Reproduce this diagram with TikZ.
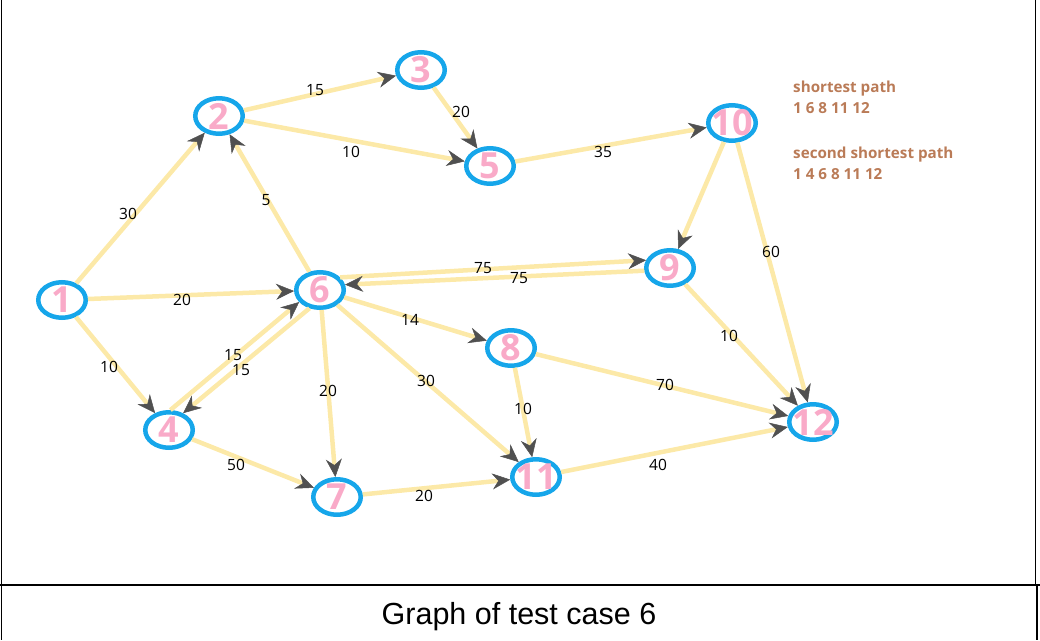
\documentclass[tikz,border=0pt]{standalone}
\usepackage{fontspec}
\setmainfont{Open Sans}
\newfontfamily\titlefont{Liberation Sans}
\usetikzlibrary{arrows.meta,shapes.geometric}
\definecolor{nodeblue}{HTML}{16A6EA}
\definecolor{numpink}{HTML}{F9AAC8}
\definecolor{edgeyellow}{HTML}{FCE9A8}
\definecolor{tipgray}{HTML}{505050}
\definecolor{pathbrown}{HTML}{BA7B57}
\begin{document}
\begin{tikzpicture}[x=1pt,y=-1pt,
  vert/.style={ellipse, draw=nodeblue, line width=4.5pt, minimum width=47.5pt, minimum height=35.5pt, inner sep=0pt},
  num/.style={text=numpink, font=\fontsize{36}{36}\selectfont\bfseries, inner sep=0pt},
  edge/.style={draw=edgeyellow, line width=4.5pt, -{Stealth[length=18pt,width=16pt,inset=6pt,color=tipgray,line width=0.5pt]}},
  wlab/.style={font=\fontsize{15.5}{16}\selectfont, text=black, inner sep=0pt},
  info/.style={font=\fontsize{15.2}{16}\selectfont\bfseries, text=pathbrown, anchor=base west, inner sep=0pt},
  frame/.style={draw=black, line width=1.5pt}]
\useasboundingbox (0,0) rectangle (1040,640);
% frame
\draw[frame] (1.5,0) -- (1.5,640);
\draw[frame] (1035.5,0) -- (1035.5,585);
\draw[frame] (1037,585) -- (1037,640);
\draw[frame] (0,585) -- (1040,585);
% vertices
\node[vert,label={[num]center:1}]  (n1)  at (62,300)  {};
\node[vert,label={[num]center:2}]  (n2)  at (219,116) {};
\node[vert,label={[num]center:3}]  (n3)  at (421,70)  {};
\node[vert,label={[num]center:4}]  (n4)  at (169,430) {};
\node[vert,label={[num]center:5}]  (n5)  at (490,166) {};
\node[vert,label={[num]center:6}]  (n6)  at (320,290) {};
\node[vert,label={[num]center:7}]  (n7)  at (337,497) {};
\node[vert,label={[num]center:8}]  (n8)  at (511,348) {};
\node[vert,label={[num]center:9}]  (n9)  at (670,268) {};
\node[vert,label={[num]center:10}] (n10) at (732,123) {};
\node[vert,label={[num]center:11}] (n11) at (536,477) {};
\node[vert,label={[num]center:12}] (n12) at (813,422) {};
% edges
\draw[edge] (n1) -- (n2);
\draw[edge] (n1) -- (n6);
\draw[edge] (n1) -- (n4);
\draw[edge] (n2) -- (n3);
\draw[edge] (n2) -- (n5);
\draw[edge] (n3) -- (n5);
\draw[edge] (n6) -- (n2);
\draw[edge] (n5) -- (n10);
\draw[edge] (n10) -- (n9);
\draw[edge] (n10) -- (n12);
\draw[edge] (n6.32) -- (n9.162);
\draw[edge] (n9.186) -- (n6.12);
\draw[edge] (n6) -- (n8);
\draw[edge] (n4.86) -- (n6.210);
\draw[edge] (n6.240) -- (n4.50);
\draw[edge] (n6) -- (n7);
\draw[edge] (n6) -- (n11);
\draw[edge] (n9) -- (n12);
\draw[edge] (n8) -- (n12);
\draw[edge] (n8) -- (n11);
\draw[edge] (n4) -- (n7);
\draw[edge] (n7) -- (n11);
\draw[edge] (n11) -- (n12);
% weights
\node[wlab] (w12)  at (128,214) {30};
\node[wlab] (w16)  at (182,300) {20};
\node[wlab] (w14)  at (109,367) {10};
\node[wlab] (w23)  at (315,90)  {15};
\node[wlab] (w25)  at (351,152) {10};
\node[wlab] (w35)  at (461,112) {20};
\node[wlab] (w62)  at (266,200) {5};
\node[wlab] (w510) at (603,152) {35};
\node[wlab] (w1012) at (771,252) {60};
\node[wlab] (w69)  at (483,268) {75};
\node[wlab] (w96)  at (519,278) {75};
\node[wlab] (w68)  at (410,320) {14};
\node[wlab] (w46)  at (233,355) {15};
\node[wlab] (w64)  at (241,370) {15};
\node[wlab] (w67)  at (328,391) {20};
\node[wlab] (w611) at (426,381) {30};
\node[wlab] (w912) at (729,336) {10};
\node[wlab] (w812) at (665,385) {70};
\node[wlab] (w811) at (523,409) {10};
\node[wlab] (w47)  at (236,465) {50};
\node[wlab] (w711) at (424,496) {20};
\node[wlab] (w1112) at (658,465) {40};
% info text
\node[info] (p1) at (793,92)  {shortest path};
\node[info] (p2) at (793,113) {1 6 8 11 12};
\node[info] (p3) at (793,158) {second shortest path};
\node[info] (p4) at (793,179) {1 4 6 8 11 12};
% title
\node[font=\titlefont\fontsize{30.5}{32}\selectfont, anchor=base, inner sep=0pt] (title) at (519,624) {Graph of test case 6};
\end{tikzpicture}
\end{document}
